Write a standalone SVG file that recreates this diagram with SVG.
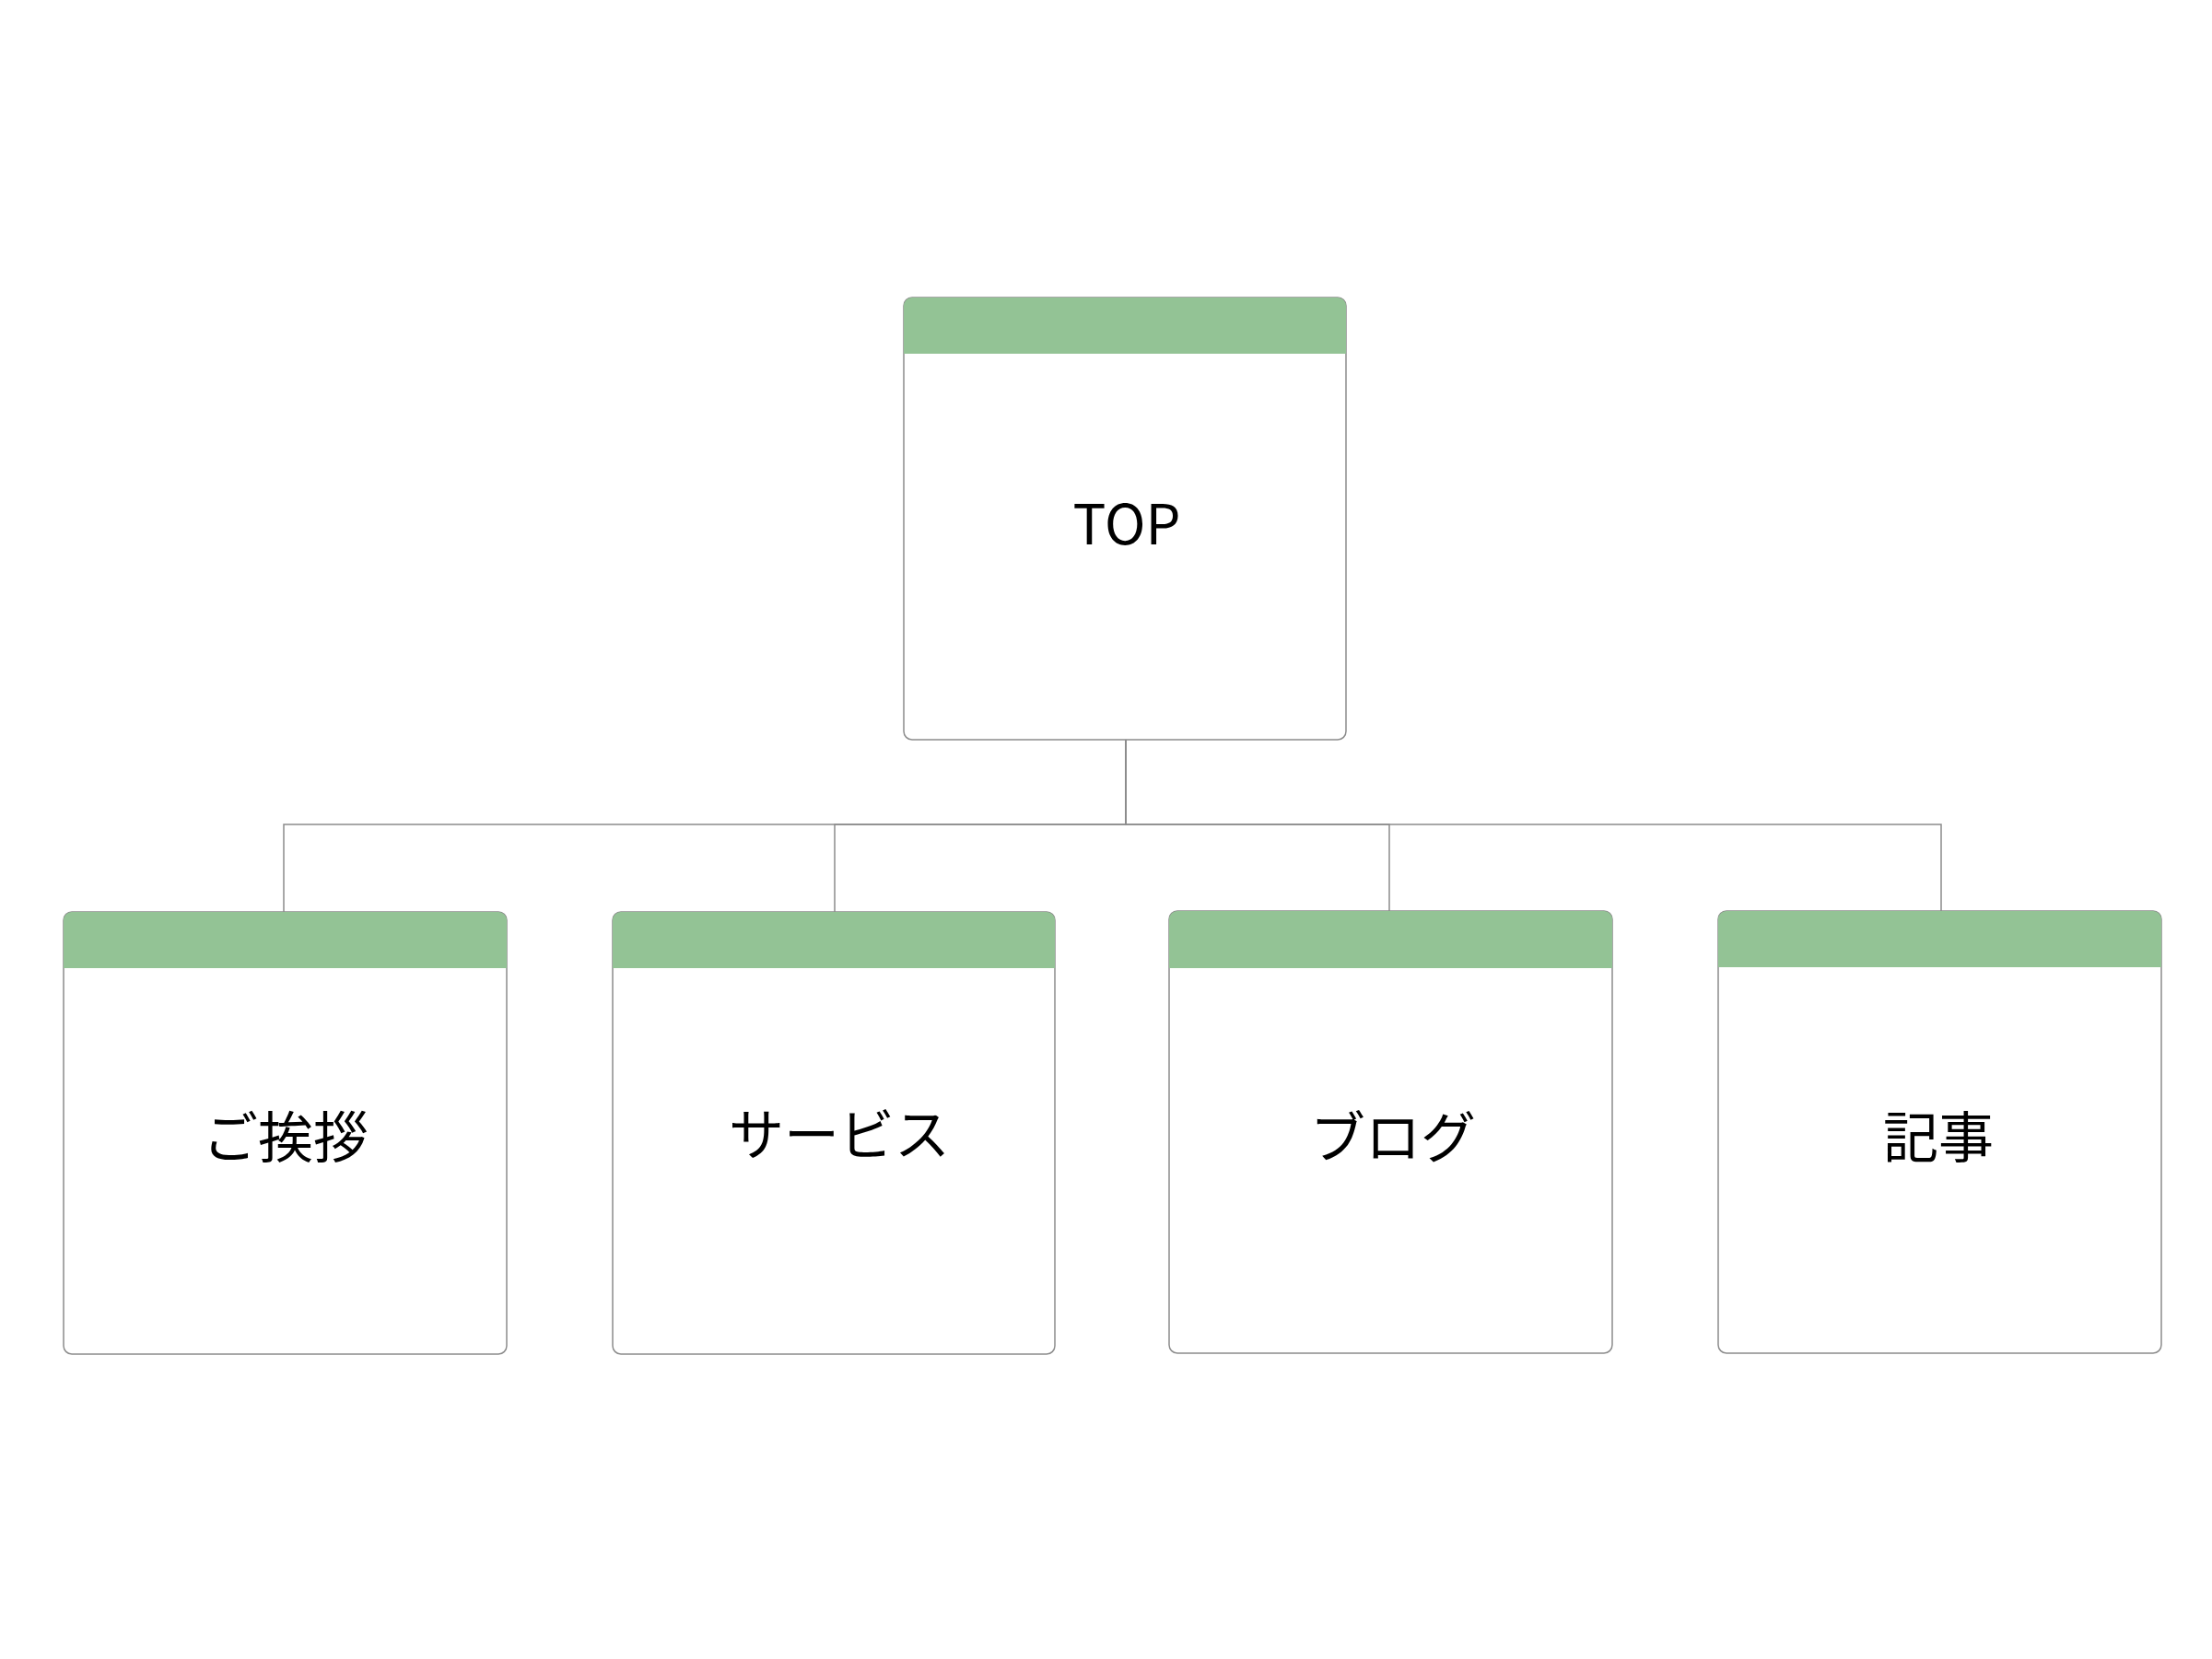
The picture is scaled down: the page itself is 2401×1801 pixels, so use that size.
<svg xmlns="http://www.w3.org/2000/svg" width="2401" height="1801" viewBox="0 0 2401 1801">
<style>
.box{fill:#ffffff;stroke:#8c8c8c;stroke-width:1.5}
.hdr{fill:#93c395}
.conn{fill:none;stroke:#8c8c8c;stroke-width:1.5}
.lbl{font-family:"Noto Sans CJK JP","Noto Sans",sans-serif;font-size:60px;fill:#000000;text-anchor:middle}
</style>
<defs>
<clipPath id="c0"><rect x="981" y="323" width="480" height="480" rx="9"/></clipPath>
<clipPath id="c1"><rect x="69" y="990" width="481" height="480" rx="9"/></clipPath>
<clipPath id="c2"><rect x="665" y="990" width="480" height="480" rx="9"/></clipPath>
<clipPath id="c3"><rect x="1269" y="989" width="481" height="480" rx="9"/></clipPath>
<clipPath id="c4"><rect x="1865" y="989" width="481" height="480" rx="9"/></clipPath>
</defs>
<rect width="2401" height="1801" fill="#ffffff"/>
<g id="connectors">
<path class="conn" d="M1222,803 V895 H308 V990"/>
<path class="conn" d="M1222,803 V895 H906 V990"/>
<path class="conn" d="M1222,803 V895 H1508 V989"/>
<path class="conn" d="M1222,803 V895 H2107 V989"/>
</g>
<g id="node-top">
<rect class="box" x="981" y="323" width="480" height="480" rx="9"/>
<rect class="hdr" x="981" y="323" width="480" height="61" clip-path="url(#c0)"/>
<text class="lbl" x="1223" y="591">TOP</text>
</g>
<g id="node-aisatsu">
<rect class="box" x="69" y="990" width="481" height="480" rx="9"/>
<rect class="hdr" x="69" y="990" width="481" height="61" clip-path="url(#c1)"/>
<text class="lbl" x="310" y="1257">ご挨拶</text>
</g>
<g id="node-service">
<rect class="box" x="665" y="990" width="480" height="480" rx="9"/>
<rect class="hdr" x="665" y="990" width="480" height="61" clip-path="url(#c2)"/>
<text class="lbl" x="911" y="1254">サービス</text>
</g>
<g id="node-blog">
<rect class="box" x="1269" y="989" width="481" height="480" rx="9"/>
<rect class="hdr" x="1269" y="989" width="481" height="62" clip-path="url(#c3)"/>
<text class="lbl" x="1512" y="1257">ブログ</text>
</g>
<g id="node-kiji">
<rect class="box" x="1865" y="989" width="481" height="480" rx="9"/>
<rect class="hdr" x="1865" y="989" width="481" height="61" clip-path="url(#c4)"/>
<text class="lbl" x="2104" y="1257">記事</text>
</g>
</svg>
